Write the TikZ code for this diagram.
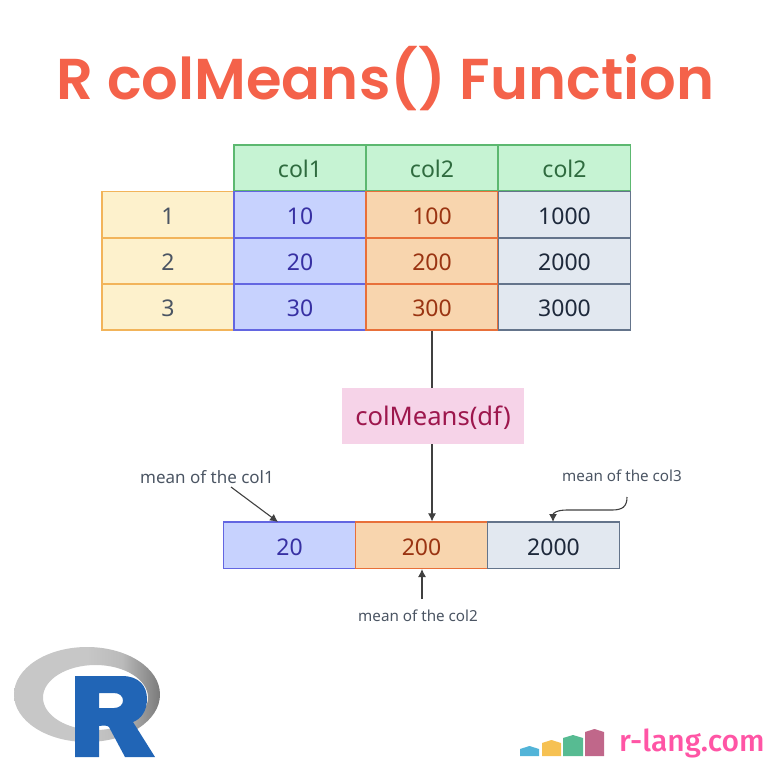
\documentclass[tikz,border=0pt]{standalone}
\usepackage{fontspec}
\setmainfont{Noto Sans}
\newfontfamily\titlefont{Poppins SemiBold}
\newfontfamily\sitefont{Fira Sans Medium}
\usetikzlibrary{arrows.meta}
\definecolor{titlered}{HTML}{F4624A}
\definecolor{greenfill}{HTML}{C6F3D3}
\definecolor{greenline}{HTML}{5CB870}
\definecolor{greentext}{HTML}{2F6B3F}
\definecolor{yellowfill}{HTML}{FDF1CC}
\definecolor{yellowline}{HTML}{F2B45A}
\definecolor{graytext}{HTML}{4B5563}
\definecolor{bluefill}{HTML}{C7D2FE}
\definecolor{blueline}{HTML}{6366E1}
\definecolor{bluetext}{HTML}{3730A3}
\definecolor{orangefill}{HTML}{F8D5AE}
\definecolor{orangeline}{HTML}{E8703A}
\definecolor{orangetext}{HTML}{9A3412}
\definecolor{slatefill}{HTML}{E2E8F0}
\definecolor{slateline}{HTML}{64748B}
\definecolor{slatetext}{HTML}{1E293B}
\definecolor{pinkfill}{HTML}{F6D3E8}
\definecolor{pinktext}{HTML}{9D174D}
\definecolor{sitepink}{HTML}{FF55A5}
\definecolor{rblue}{HTML}{2165B6}
\definecolor{houseblue}{HTML}{52B4D8}
\definecolor{houseyellow}{HTML}{F6C152}
\definecolor{housegreen}{HTML}{57BB92}
\definecolor{houserose}{HTML}{C0678A}
\pgfdeclarehorizontalshading{ringshade}{100bp}{color(0bp)=(black!22); color(50bp)=(black!22); color(62bp)=(black!27); color(75bp)=(black!52); color(100bp)=(black!52)}
\tikzset{
  cell/.style={draw,line width=1.5pt,minimum width=132pt,minimum height=46.3pt,inner sep=0pt,
    text height=19.5pt,text depth=0pt,font=\fontsize{23}{26}\selectfont},
  headcell/.style={cell,fill=greenfill,draw=greenline,text=greentext},
  rowcell/.style={cell,fill=yellowfill,draw=yellowline,text=graytext},
  bluecell/.style={cell,fill=bluefill,draw=blueline,text=bluetext},
  orangecell/.style={cell,fill=orangefill,draw=orangeline,text=orangetext},
  slatecell/.style={cell,fill=slatefill,draw=slateline,text=slatetext},
  note/.style={text=graytext,inner sep=0pt,font=\fontsize{15.2}{18}\selectfont},
  flow/.style={draw=black!75,line width=1.1pt},
  arrow/.style={flow,-{Latex[length=8pt,width=8pt]}},
  house/.style={draw=none}
}
\begin{document}
\begin{tikzpicture}[x=1pt,y=-1pt]
 \useasboundingbox (0,0) rectangle (768,768);
 \node[text=titlered,inner sep=0pt,font=\titlefont\fontsize{57.6}{70}\selectfont] (title) at (385.5,79) {R colMeans() Function};
 % table
 \node[headcell] (h1) at (300,168) {col1};
 \node[headcell] (h2) at (432,168) {col2};
 \node[headcell] (h3) at (564.5,168) {col2};
 \node[rowcell] (r1) at (168,214.5) {1};
 \node[rowcell] (r2) at (168,261) {2};
 \node[rowcell] (r3) at (168,307) {3};
 \node[bluecell] (a1) at (300,214.5) {10};
 \node[bluecell] (a2) at (300,261) {20};
 \node[bluecell] (a3) at (300,307) {30};
 \node[orangecell] (b1) at (432,214.5) {100};
 \node[orangecell] (b2) at (432,261) {200};
 \node[orangecell] (b3) at (432,307) {300};
 \node[slatecell] (c1) at (564.5,214.5) {1000};
 \node[slatecell] (c2) at (564.5,261) {2000};
 \node[slatecell] (c3) at (564.5,307) {3000};
 % function
 \node[fill=pinkfill,text=pinktext,minimum width=182pt,minimum height=56pt,inner sep=0pt,text height=18pt,text depth=0pt,font=\fontsize{25.6}{28}\selectfont] (fn) at (433,416) {colMeans(df)};
 % result
 \node[bluecell] (m1) at (289.5,545.3) {20};
 \node[orangecell] (m2) at (421.5,545.3) {200};
 \node[slatecell] (m3) at (553.5,545.3) {2000};
 \draw[flow] (b3.south) -- (b3.south |- fn.north);
 \draw[arrow] (b3.south |- fn.south) -- (b3.south |- m2.north);
 % notes
 \node[note,font=\fontsize{17}{20}\selectfont] (n1) at (207,477) {mean of the col1};
 \node[note] (n2) at (418,616) {mean of the col2};
 \node[note] (n3) at (622,476) {mean of the col3};
 \coordinate (s1) at (231,487);
 \coordinate (e1) at (278,522);
 \coordinate (s2) at (422,599);
 \coordinate (e2) at (422,569);
 \coordinate (s3) at (627,497);
 \coordinate (e3) at (553,522);
 \draw[arrow] (s1) -- (e1);
 \draw[arrow] (s2) -- (e2);
 \draw[arrow] (s3) .. controls (627,507) and (622,510) .. (612,510) -- (567,510) .. controls (557,510) and (553,513) .. (e3);
 % R logo
 \shade[even odd rule,shading=ringshade]
   (87,694.5) ellipse [x radius=73,y radius=47.5]
   (95.5,697.5) ellipse [x radius=52.5,y radius=32.5];
 \fill[rblue,even odd rule] (75,676) -- (122,676) .. controls (139,676) and (147,686) .. (147,699)
   .. controls (147,711) and (141,719) .. (133,722) -- (155,757) -- (125,757) -- (109,727)
   .. controls (107,725) and (103,725.5) .. (99,726) -- (99,757) -- (75,757) -- cycle
   (99,693) -- (99,708) -- (114,708) .. controls (126,708) and (126,693) .. (114,693) -- cycle;
 % site logo
 \fill[house,fill=houseblue] (520,756) -- (520,749) -- (529.5,746) -- (539,749) -- (539,756) -- cycle;
 \fill[house,fill=houseyellow] (542,756) -- (542,743) -- (551.5,740) -- (561,743) -- (561,756) -- cycle;
 \fill[house,fill=housegreen] (563,756) -- (563,738) -- (573,735) -- (583,738) -- (583,756) -- cycle;
 \fill[house,fill=houserose] (585,756) -- (585,732) -- (594.5,729) -- (604,732) -- (604,756) -- cycle;
 \node[text=sitepink,inner sep=0pt,anchor=base west,font=\sitefont\fontsize{30}{36}\selectfont] (site) at (619,751) {r-lang.com};
\end{tikzpicture}
\end{document}
